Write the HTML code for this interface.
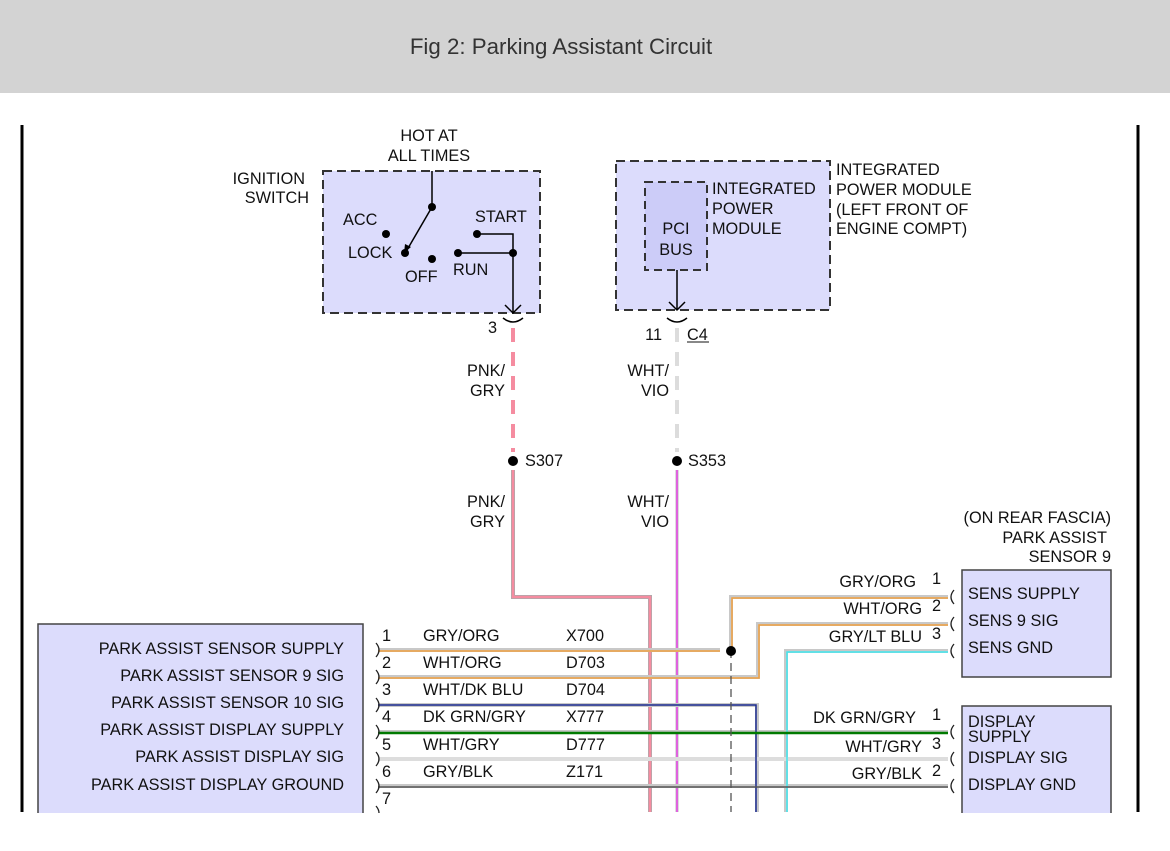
<!DOCTYPE html>
<html><head><style>
body{margin:0;background:#fff;width:1170px;height:846px;overflow:hidden;font-family:"Liberation Sans",sans-serif}
svg text{font-family:"Liberation Sans",sans-serif;font-size:16.3px;fill:#111}
</style></head><body>
<svg width="1170" height="846" viewBox="0 0 1170 846" xmlns="http://www.w3.org/2000/svg">
<rect x="0" y="0" width="1170" height="93" fill="#d3d3d3"/>
<text x="561" y="54" text-anchor="middle" style="font-size:22.3px;fill:#333">Fig 2: Parking Assistant Circuit</text>
<line x1="22" y1="125" x2="22" y2="812" stroke="#000" stroke-width="3"/>
<line x1="1138" y1="125" x2="1138" y2="812" stroke="#000" stroke-width="3"/>

<!-- Ignition switch -->
<rect x="323" y="171" width="217" height="142" fill="#dcdcfc" stroke="#333" stroke-width="2" stroke-dasharray="9,5"/>
<text x="429" y="141" text-anchor="middle">HOT AT</text>
<text x="429" y="161" text-anchor="middle">ALL TIMES</text>
<text x="305" y="184" text-anchor="end">IGNITION</text>
<text x="309" y="203" text-anchor="end">SWITCH</text>
<line x1="432" y1="171" x2="432" y2="207" stroke="#000" stroke-width="1.5"/>
<line x1="432" y1="207" x2="407" y2="250" stroke="#000" stroke-width="1.5"/>
<path d="M404,253 l1,-9 l6,3 z" fill="#000"/>
<circle cx="432" cy="207" r="4"/><circle cx="405" cy="253" r="4"/>
<circle cx="386" cy="234" r="4"/><circle cx="432" cy="259" r="4"/>
<circle cx="477" cy="234" r="4"/><circle cx="458" cy="253" r="4"/><circle cx="513" cy="253" r="4"/>
<polyline points="477,234 513,234 513,313" fill="none" stroke="#000" stroke-width="1.5"/>
<line x1="458" y1="253" x2="513" y2="253" stroke="#000" stroke-width="1.5"/>
<path d="M505,305 l8,8 l8,-8" fill="none" stroke="#000" stroke-width="1.5"/>
<text x="343" y="225">ACC</text><text x="348" y="258">LOCK</text>
<text x="405" y="282">OFF</text><text x="453" y="275">RUN</text><text x="475" y="222">START</text>
<path d="M503,318 q10,8 20,0" fill="none" stroke="#000" stroke-width="1.5"/>
<text x="497" y="333" text-anchor="end">3</text>

<!-- IPM -->
<rect x="616" y="161" width="214" height="149" fill="#dcdcfc" stroke="#333" stroke-width="2" stroke-dasharray="9,5"/>
<rect x="645" y="182" width="62" height="88" fill="#ccccf8" stroke="#333" stroke-width="2" stroke-dasharray="8,5"/>
<text x="676" y="234" text-anchor="middle">PCI</text><text x="676" y="255" text-anchor="middle">BUS</text>
<text x="712" y="194">INTEGRATED</text><text x="712" y="214">POWER</text><text x="712" y="234">MODULE</text>
<text x="836" y="175">INTEGRATED</text><text x="836" y="195">POWER MODULE</text>
<text x="836" y="215">(LEFT FRONT OF</text><text x="836" y="234">ENGINE COMPT)</text>
<line x1="677" y1="270" x2="677" y2="310" stroke="#000" stroke-width="1.5"/>
<path d="M669,302 l8,8 l8,-8" fill="none" stroke="#000" stroke-width="1.5"/>
<path d="M667,318 q10,8 20,0" fill="none" stroke="#000" stroke-width="1.5"/>
<text x="662" y="340" text-anchor="end">11</text>
<text x="687" y="340">C4</text><line x1="687" y1="342" x2="709" y2="342" stroke="#111" stroke-width="1"/>

<!-- vertical wires -->
<line x1="513" y1="328" x2="513" y2="452" stroke="#f58ca0" stroke-width="4" stroke-dasharray="14,10"/>
<line x1="677" y1="328" x2="677" y2="452" stroke="#dcdcdc" stroke-width="4" stroke-dasharray="14,10"/>
<polyline points="513,470 513,597 650,597 650,812" fill="none" stroke="#aaa" stroke-width="4"/>
<polyline points="513,470 513,597 650,597 650,812" fill="none" stroke="#f58ca0" stroke-width="2.5"/>
<line x1="677" y1="470" x2="677" y2="812" stroke="#ddd" stroke-width="4"/>
<line x1="677" y1="470" x2="677" y2="812" stroke="#e010e0" stroke-width="1.2"/>
<circle cx="513" cy="461" r="5"/><circle cx="677" cy="461" r="5"/>
<text x="525" y="466">S307</text><text x="688" y="466">S353</text>
<text x="505" y="376" text-anchor="end">PNK/</text><text x="505" y="396" text-anchor="end">GRY</text>
<text x="505" y="507" text-anchor="end">PNK/</text><text x="505" y="527" text-anchor="end">GRY</text>
<text x="669" y="376" text-anchor="end">WHT/</text><text x="669" y="396" text-anchor="end">VIO</text>
<text x="669" y="507" text-anchor="end">WHT/</text><text x="669" y="527" text-anchor="end">VIO</text>

<!-- horizontal wires -->
<g fill="none" stroke-width="4" stroke="#c8c8c8">
<polyline points="378,650 720,650"/>
<polyline points="731,650 731,597 948,597"/>
<polyline points="378,677 758,677 758,624 948,624"/>
<polyline points="948,651 786,651 786,812"/>
<polyline points="378,705 757,705 757,812"/>
<polyline points="378,732 948,732"/>
<polyline points="378,759 948,759" stroke="#ddd"/>
<polyline points="378,786 948,786"/>
</g>
<g fill="none" stroke-width="1.5">
<polyline points="378,651 720,651" stroke="#f0a040"/>
<polyline points="732,650 732,598 948,598" stroke="#f0a040"/>
<polyline points="378,678 759,678 759,625 948,625" stroke="#f0a040"/>
<polyline points="948,652 787,652 787,812" stroke="#40e8f0"/>
<polyline points="378,705 756,705 756,812" stroke="#1a2a90"/>
<polyline points="378,733 948,733" stroke="#007a00" stroke-width="2.5"/>
<polyline points="378,787 948,787" stroke="#555"/>
</g>
<line x1="731" y1="650" x2="731" y2="812" stroke="#555" stroke-width="1.3" stroke-dasharray="8,5"/>
<circle cx="731" cy="651" r="5"/>

<!-- connector marks -->
<g fill="none" stroke="#222" stroke-width="1.3">
<path d="M376,643 q6,7 0,14"/><path d="M376,670 q6,7 0,14"/><path d="M376,698 q6,7 0,14"/>
<path d="M376,725 q6,7 0,14"/><path d="M376,752 q6,7 0,14"/><path d="M376,779 q6,7 0,14"/><path d="M376,806 q6,7 0,14"/>
<path d="M954,590 q-6,7 0,14"/><path d="M954,617 q-6,7 0,14"/><path d="M954,644 q-6,7 0,14"/>
<path d="M954,725 q-6,7 0,14"/><path d="M954,752 q-6,7 0,14"/><path d="M954,779 q-6,7 0,14"/>
</g>

<!-- left box -->
<rect x="38" y="624" width="325" height="200" fill="#dcdcfc" stroke="#444" stroke-width="1.5"/>
<g text-anchor="end">
<text x="344" y="654">PARK ASSIST SENSOR SUPPLY</text>
<text x="344" y="681">PARK ASSIST SENSOR 9 SIG</text>
<text x="344" y="708">PARK ASSIST SENSOR 10 SIG</text>
<text x="344" y="735">PARK ASSIST DISPLAY SUPPLY</text>
<text x="344" y="762">PARK ASSIST DISPLAY SIG</text>
<text x="344" y="790">PARK ASSIST DISPLAY GROUND</text>
</g>
<g>
<text x="382" y="641">1</text><text x="423" y="641">GRY/ORG</text><text x="566" y="641">X700</text>
<text x="382" y="668">2</text><text x="423" y="668">WHT/ORG</text><text x="566" y="668">D703</text>
<text x="382" y="695">3</text><text x="423" y="695">WHT/DK BLU</text><text x="566" y="695">D704</text>
<text x="382" y="722">4</text><text x="423" y="722">DK GRN/GRY</text><text x="566" y="722">X777</text>
<text x="382" y="750">5</text><text x="423" y="750">WHT/GRY</text><text x="566" y="750">D777</text>
<text x="382" y="777">6</text><text x="423" y="777">GRY/BLK</text><text x="566" y="777">Z171</text>
<text x="382" y="804">7</text>
</g>
<g text-anchor="end">
<text x="916" y="587">GRY/ORG</text><text x="941" y="584">1</text>
<text x="922" y="614">WHT/ORG</text><text x="941" y="611">2</text>
<text x="922" y="642">GRY/LT BLU</text><text x="941" y="639">3</text>
<text x="916" y="723">DK GRN/GRY</text><text x="941" y="720">1</text>
<text x="922" y="752">WHT/GRY</text><text x="941" y="749">3</text>
<text x="922" y="779">GRY/BLK</text><text x="941" y="776">2</text>
<text x="1111" y="523">(ON REAR FASCIA)</text>
<text x="1107" y="543">PARK ASSIST</text>
<text x="1111" y="562">SENSOR 9</text>
</g>
<rect x="962" y="570" width="149" height="107" fill="#dcdcfc" stroke="#444" stroke-width="1.5"/>
<rect x="962" y="706" width="149" height="118" fill="#dcdcfc" stroke="#444" stroke-width="1.5"/>
<text x="968" y="599">SENS SUPPLY</text><text x="968" y="626">SENS 9 SIG</text><text x="968" y="653">SENS GND</text>
<text x="968" y="727">DISPLAY</text><text x="968" y="742">SUPPLY</text>
<text x="968" y="763">DISPLAY SIG</text><text x="968" y="790">DISPLAY GND</text>
<rect x="0" y="813" width="1170" height="33" fill="#fff"/>
</svg>
</body></html>
